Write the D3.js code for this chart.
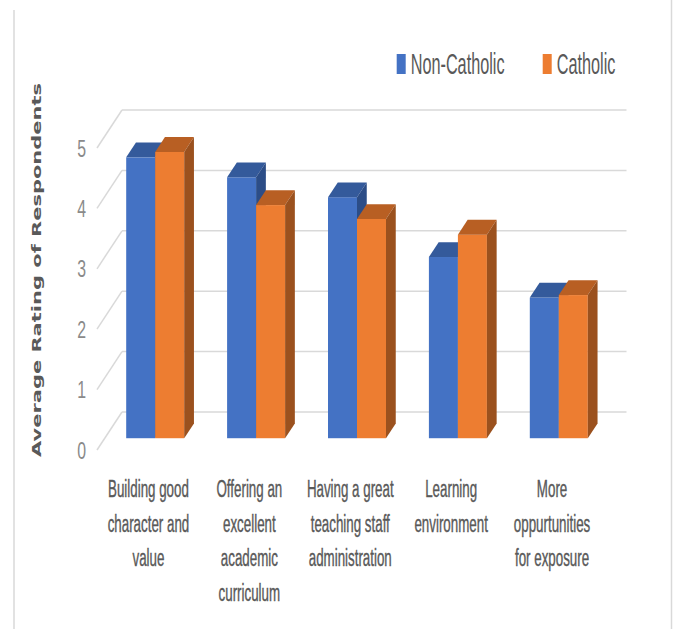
<!DOCTYPE html>
<html>
<head>
<meta charset="utf-8">
<script src="https://cdn.jsdelivr.net/npm/d3@7"></script>
<style>
    body { margin: 0; background: #fff; }
    #chart { width: 673px; height: 629px; }
</style>
</head>
<body>
<div id="chart"></div>
<script>

/*
DATA
*/
const categories = ["Building good character and value", "Offering an excellent academic curriculum",
    "Having a great teaching staff administration", "Learning environment", "More oppurtunities for exposure"];
const categoryLines = [
    ["Building good", "character and", "value"],
    ["Offering an", "excellent", "academic", "curriculum"],
    ["Having a great", "teaching staff", "administration"],
    ["Learning", "environment"],
    ["More", "oppurtunities", "for exposure"]
];
const series = ["Non-Catholic", "Catholic"];
const nonCatholic = [4.65, 4.32, 3.99, 3.00, 2.33];
const catholic = [4.74, 3.86, 3.63, 3.37, 2.37];
const yTicks = [0, 1, 2, 3, 4, 5];

/*
DIMENSIONS + SVG
*/
const width = 673;
const height = 629;

const svg = d3.select("#chart")
    .append("svg")
    .attr("width", width)
    .attr("height", height)
    .attr("viewBox", `0 0 ${width} ${height}`);

// front plane of the 3d box and the depth vector going to the back wall
const plot = {left: 97, right: 601.5, bottom: 450, top: 148};
const depth = {dx: 25, dy: -38};
const barFront = 0.31, barBack = 0.70;

const colors = {
    "Non-Catholic": {front: "#4472C4", top: "#345A9B", side: "#2C4D87"},
    "Catholic": {front: "#ED7D31", top: "#B85F23", side: "#9B511E"}
};

/*
SCALES
*/
const xScale = d3.scaleBand()
    .domain(categories)
    .range([plot.left, plot.right]);

const sScale = d3.scaleBand()
    .domain(series)
    .range([-29, 29]);

const yScale = d3.scaleLinear()
    .domain([0, 5])
    .range([plot.bottom, plot.top]);

// frame lines
svg.append("line")
    .attr("x1", 14).attr("x2", 14).attr("y1", 10).attr("y2", height)
    .attr("stroke", "#d9d9d9").attr("stroke-width", 1.5);
svg.append("line")
    .attr("x1", 671.5).attr("x2", 671.5).attr("y1", 0).attr("y2", height)
    .attr("stroke", "#d9d9d9").attr("stroke-width", 1.5);

/*
WALLS + GRIDLINES
*/
const grid = svg.append("g").attr("class", "grid");

yTicks.forEach(function(t) {
    // back wall
    grid.append("line")
        .attr("x1", plot.left + depth.dx)
        .attr("x2", plot.right + depth.dx)
        .attr("y1", yScale(t) + depth.dy)
        .attr("y2", yScale(t) + depth.dy)
        .attr("stroke", "#d9d9d9")
        .attr("stroke-width", 1.5);
    // side wall
    grid.append("line")
        .attr("x1", plot.left)
        .attr("x2", plot.left + depth.dx)
        .attr("y1", yScale(t))
        .attr("y2", yScale(t) + depth.dy)
        .attr("stroke", "#d9d9d9")
        .attr("stroke-width", 1.5);
});

/*
Y TICK LABELS (squeezed text like the original)
*/
yTicks.forEach(function(t) {
    svg.append("text")
        .attr("transform", `translate(86,${yScale(t) + 8.5}) scale(0.66,1)`)
        .attr("text-anchor", "end")
        .attr("font-family", "Liberation Sans, Arial, sans-serif")
        .attr("font-size", 24)
        .attr("fill", "#8a8a8a")
        .text(t);
});

/*
BARS
*/
const bars = svg.append("g").attr("class", "bars");
const ddx = (barBack - barFront) * depth.dx;
const ddy = (barBack - barFront) * depth.dy;

categories.forEach(function(c, i) {
    const values = [nonCatholic[i], catholic[i]];
    series.forEach(function(s, j) {
        const v = values[j];
        const w = sScale.bandwidth();
        const x0 = xScale(c) + xScale.bandwidth() / 2 + sScale(s) + barFront * depth.dx;
        const yTop = yScale(v) + barFront * depth.dy;
        const yBase = yScale(0) + barFront * depth.dy;

        bars.append("rect")
            .attr("x", x0)
            .attr("y", yTop)
            .attr("width", w)
            .attr("height", yBase - yTop)
            .attr("fill", colors[s].front);

        bars.append("path")
            .attr("d", `M${x0},${yTop}L${x0 + w},${yTop}L${x0 + w + ddx},${yTop + ddy}L${x0 + ddx},${yTop + ddy}Z`)
            .attr("fill", colors[s].top);

        bars.append("path")
            .attr("d", `M${x0 + w},${yTop}L${x0 + w + ddx},${yTop + ddy}L${x0 + w + ddx},${yBase + ddy}L${x0 + w},${yBase}Z`)
            .attr("fill", colors[s].side);
    });
});

/*
CATEGORY LABELS
*/
categories.forEach(function(c, i) {
    const cx = xScale(c) + xScale.bandwidth() / 2 + 1;
    categoryLines[i].forEach(function(line, k) {
        svg.append("text")
            .attr("transform", `translate(${cx},${496.7 + k * 34.8}) scale(0.58,1)`)
            .attr("text-anchor", "middle")
            .attr("font-family", "Liberation Sans, Arial, sans-serif")
            .attr("font-size", 23)
            .attr("stroke", "#595959")
            .attr("stroke-width", 0.4)
            .attr("fill", "#595959")
            .text(line);
    });
});

/*
AXIS TITLE
*/
svg.append("text")
    .attr("transform", "translate(40.5,270) rotate(-90)")
    .attr("text-anchor", "middle")
    .attr("font-family", "DejaVu Sans, Verdana, sans-serif")
    .attr("font-weight", "bold")
    .attr("font-size", 13)
    .attr("textLength", 374)
    .attr("lengthAdjust", "spacingAndGlyphs")
    .attr("fill", "#595959")
    .text("Average Rating of Respondents");

/*
LEGEND
*/
const legendX = [396.7, 542.7];
series.forEach(function(s, i) {
    svg.append("rect")
        .attr("x", legendX[i])
        .attr("y", 54)
        .attr("width", 9)
        .attr("height", 20)
        .attr("fill", colors[s].front);

    svg.append("text")
        .attr("transform", `translate(${legendX[i] + 14},74) scale(0.56,1)`)
        .attr("font-family", "Liberation Sans, Arial, sans-serif")
        .attr("font-size", 29)
        .attr("fill", "#595959")
        .text(s);
});

</script>
</body>
</html>
